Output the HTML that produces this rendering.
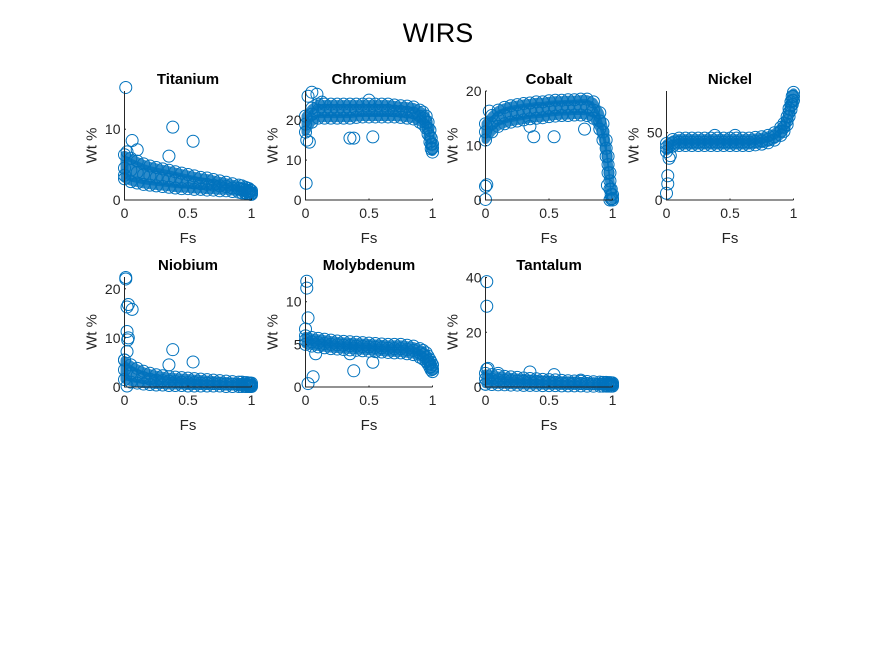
<!DOCTYPE html>
<html><head><meta charset="utf-8"><style>
html,body{margin:0;padding:0;background:#fff;}
svg{display:block;font-family:"Liberation Sans",Arial,sans-serif;}
</style></head><body>
<svg id="fig" width="875" height="656" viewBox="0 0 875 656">
<rect width="875" height="656" fill="#fff"/>
<text x="438" y="42" text-anchor="middle" font-size="27" fill="#000">WIRS</text>
</svg>
<script>
const fsGrid = [0,0.05,0.1,0.15,0.2,0.25,0.3,0.35,0.4,0.45,0.5,0.55,0.6,0.65,0.7,0.75,0.8,0.85,0.9,0.925,0.95,0.965,0.98,0.99,1];
const elements = ["Titanium","Chromium","Cobalt","Nickel","Niobium","Molybdenum","Tantalum"];
const yMax = [15.4,27.3,20,81,22.4,12.9,40.2];
const yTicks = [[0,10],[0,10,20],[0,10,20],[0,50],[0,10,20],[0,5,10],[0,20,40]];
const xTicks = [0,0.5,1];
const xTickLabels = ["0","0.5","1"];
const tiUpper = [6.4,5.9,5.5,5.1,4.8,4.6,4.4,4.2,4.0,3.8,3.6,3.4,3.2,3.1,2.9,2.7,2.5,2.3,2.1,2.0,1.8,1.7,1.6,1.4,1.3];
const tiMid = [4.5,4.2,3.9,3.6,3.4,3.2,3.0,2.9,2.8,2.6,2.5,2.4,2.3,2.2,2.1,2.0,1.9,1.7,1.6,1.5,1.4,1.3,1.2,1.1,1.0];
const tiLower = [3.0,2.6,2.4,2.2,2.1,2.0,1.9,1.8,1.7,1.6,1.6,1.5,1.5,1.4,1.4,1.3,1.3,1.2,1.1,1.0,1.0,0.9,0.9,0.8,0.8];
const tiOut = [[0.01,15.9],[0.06,8.4],[0.38,10.3],[0.54,8.3],[0.35,6.2],[0.1,7.1],[0.02,6.8],[0.0,3.5]];
const crUpper = [21,23,24,24,24,24,24,24,24,24,24,24,24,24,23.8,23.6,23.5,23.3,22.5,22,21,19.5,17.5,15.5,14];
const crMid = [19,21.5,22.5,22.5,22.5,22.5,22.5,22.5,22.5,22.5,22.5,22.5,22.5,22.5,22.3,22.2,22,21.8,21,20.5,19.5,18,16,14,13];
const crLower = [17,19.5,20.5,20.5,20.5,20.5,20.5,20.5,20.7,20.8,20.8,20.8,20.8,20.8,20.8,20.7,20.5,20.3,19.5,19,18,16.5,14.5,12.8,12];
const crOut = [[0.005,4.2],[0.01,15],[0.03,14.5],[0.02,26],[0.05,27],[0.09,26.5],[0.35,15.5],[0.38,15.5],[0.53,15.8],[0.5,25],[0.13,24.5]];
const coUpper = [14,15.5,16.5,17,17.3,17.5,17.7,17.8,18,18,18.2,18.3,18.3,18.4,18.4,18.5,18.5,18,16,14,11,8,5,2,1];
const coMid = [12.5,14,15,15.5,15.8,16,16.2,16.4,16.5,16.6,16.8,16.9,17,17,17.1,17.1,17,16.5,14.5,12.5,9.5,6.5,3.5,1,0.3];
const coLower = [11,12.5,13.5,14,14.3,14.5,14.7,14.9,15,15.1,15.3,15.4,15.5,15.5,15.6,15.6,15.5,15,13,11,8,5,2,0.2,0];
const coOut = [[0.0,2.5],[0.01,2.8],[0.0,0.1],[0.03,16.3],[0.38,11.6],[0.54,11.6],[0.35,13.5],[0.78,13],[0.96,2.7],[0.98,0]];
const niUpper = [42,45,46,46,46,46,46,46,46,46,46,46,46,46,46.5,47,48,50,54,57,62,68,73,77,80];
const niMid = [39,42.5,43,43,43,43,43,43,43,43,43,43,43,43,43.5,44,45,47,51,54,59,65,70,74,77];
const niLower = [36,40,40.5,40.5,40.5,40.5,40.5,40.5,40.5,40.5,40.5,40.5,40.5,40.5,41,41.5,42.5,44.5,48,51,56,62,67,71,74];
const niOut = [[0.0,5],[0.01,12],[0.01,18],[0.02,31],[0.03,33],[0.38,48],[0.54,48]];
const nbUpper = [5.5,4.5,3.8,3.2,2.8,2.5,2.3,2.1,2.0,1.9,1.8,1.7,1.6,1.5,1.4,1.3,1.2,1.1,1.0,1.0,0.9,0.9,0.8,0.8,0.8];
const nbMid = [3.5,2.8,2.3,1.9,1.6,1.4,1.3,1.2,1.1,1.0,0.9,0.9,0.8,0.8,0.7,0.7,0.6,0.6,0.5,0.5,0.5,0.5,0.4,0.4,0.4];
const nbLower = [1.5,1.0,0.8,0.6,0.5,0.4,0.4,0.3,0.3,0.3,0.2,0.2,0.2,0.2,0.2,0.2,0.1,0.1,0.1,0.1,0.1,0.1,0.1,0.1,0.1];
const nbOut = [[0.01,22.3],[0.01,22],[0.02,16.3],[0.03,16.8],[0.06,15.8],[0.02,11.3],[0.03,10],[0.025,9.6],[0.02,7.2],[0.0,5.5],[0.38,7.6],[0.35,4.5],[0.54,5.1],[0.02,0.2]];
const moUpper = [6,5.8,5.7,5.6,5.5,5.4,5.35,5.3,5.25,5.2,5.15,5.1,5.05,5.0,5.0,5.0,4.9,4.8,4.5,4.3,4.0,3.6,3.2,2.9,2.6];
const moMid = [5.5,5.3,5.2,5.1,5.0,4.95,4.9,4.85,4.8,4.75,4.7,4.65,4.6,4.55,4.5,4.5,4.4,4.3,4.0,3.8,3.5,3.1,2.7,2.4,2.1];
const moLower = [5,4.8,4.7,4.6,4.5,4.45,4.4,4.35,4.3,4.25,4.2,4.15,4.1,4.05,4.0,4.0,3.9,3.8,3.5,3.3,3.0,2.7,2.3,2.0,1.8];
const moOut = [[0.01,12.4],[0.01,11.6],[0.02,8.1],[0.0,6.8],[0.02,0.4],[0.06,1.2],[0.38,1.9],[0.53,2.9],[0.08,3.9],[0.35,3.9]];
const taUpper = [5,4.5,4.2,3.9,3.7,3.5,3.3,3.1,3.0,2.8,2.7,2.6,2.4,2.3,2.2,2.1,2.0,1.9,1.8,1.7,1.7,1.6,1.6,1.5,1.5];
const taMid = [3,2.8,2.6,2.4,2.3,2.2,2.1,2.0,1.9,1.8,1.7,1.6,1.5,1.5,1.4,1.3,1.3,1.2,1.1,1.1,1.0,1.0,1.0,0.9,0.9];
const taLower = [1,0.9,0.8,0.8,0.7,0.7,0.6,0.6,0.6,0.5,0.5,0.5,0.4,0.4,0.4,0.4,0.3,0.3,0.3,0.3,0.3,0.3,0.3,0.3,0.3];
const taOut = [[0.01,38.5],[0.01,29.5],[0.01,6.5],[0.02,6.8],[0.35,5.5],[0.54,4.5],[0.75,2.5],[0.1,5],[0.0,1]];

const uppers=[tiUpper,crUpper,coUpper,niUpper,nbUpper,moUpper,taUpper];
const mids=[tiMid,crMid,coMid,niMid,nbMid,moMid,taMid];
const lowers=[tiLower,crLower,coLower,niLower,nbLower,moLower,taLower];
const outs=[tiOut,crOut,coOut,niOut,nbOut,moOut,taOut];

const NS="http://www.w3.org/2000/svg";
const svg=document.getElementById('fig');
const colX=[124.5,305.5,485.5,666.5], W=127;
const rowY=[[91,200],[277,387]];
const BLUE="#0072BD";
function mk(tag,attrs,parent){const e=document.createElementNS(NS,tag);for(const k in attrs)e.setAttribute(k,attrs[k]);(parent||svg).appendChild(e);return e;}

elements.forEach((name,i)=>{
  const r=i<4?0:1, c=i<4?i:i-4;
  const x0=colX[c], y0=rowY[r][1], yt=rowY[r][0];
  const sx=v=>x0+v*W;
  const sy=v=>y0-(v/yMax[i])*(y0-yt);
  const g=mk('g',{});
  
  
  let pts=fsGrid.map((f,k)=>sx(f)+','+sy(uppers[i][k]));
  pts=pts.concat(fsGrid.map((f,k)=>sx(f)+','+sy(lowers[i][k])).reverse());
  const band=mk('polygon',{points:pts.join(' '),fill:BLUE,'fill-opacity':'0.82',stroke:BLUE,'stroke-opacity':'0.82','stroke-width':'8','stroke-linejoin':'round'},g);
  
  
  [uppers[i],mids[i],lowers[i]].forEach(arr=>{
    arr.forEach((v,k)=>{
      const m=mk('circle',{cx:sx(fsGrid[k]),cy:sy(v),r:6,fill:'none',stroke:BLUE,'stroke-width':'1'},g);
      
      
    });
  });
  outs[i].forEach(p=>{
    const m=mk('circle',{cx:sx(p[0]),cy:sy(p[1]),r:6,fill:'none',stroke:BLUE,'stroke-width':'1'},g);
    
    
  });
  const ax=mk('path',{d:`M${x0},${yt}V${y0}H${x0+W}`,fill:'none',stroke:'#262626','stroke-width':'1'},g);
  
  
  xTicks.forEach((t,k)=>{
    mk('line',{x1:sx(t),x2:sx(t),y1:y0,y2:y0-1.5,stroke:'#262626'},g);
    const tl=mk('text',{x:sx(t),y:y0+18,'text-anchor':'middle','font-size':'14',fill:'#262626'},g);
    tl.textContent=xTickLabels[k];
    
    
  });
  yTicks[i].forEach(t=>{
    mk('line',{x1:x0,x2:x0+1.5,y1:sy(t),y2:sy(t),stroke:'#262626'},g);
    const tl=mk('text',{x:x0-4,y:sy(t)+5,'text-anchor':'end','font-size':'14',fill:'#262626'},g);
    tl.textContent=String(t);
    
    
  });
  const ti=mk('text',{x:x0+W/2,y:yt-7,'text-anchor':'middle','font-size':'15','font-weight':'bold',fill:'#000'},g);
  ti.textContent=name;
  
  
  const xl=mk('text',{x:x0+W/2,y:y0+43,'text-anchor':'middle','font-size':'15',fill:'#262626'},g);
  xl.textContent='Fs';
  
  
  const yc=(yt+y0)/2, yx=x0-28;
  const yl=mk('text',{x:yx,y:yc,'text-anchor':'middle','font-size':'15',fill:'#262626',transform:`rotate(-90 ${yx} ${yc})`},g);
  yl.textContent='Wt %';
  
  
});
</script>
</body></html>
